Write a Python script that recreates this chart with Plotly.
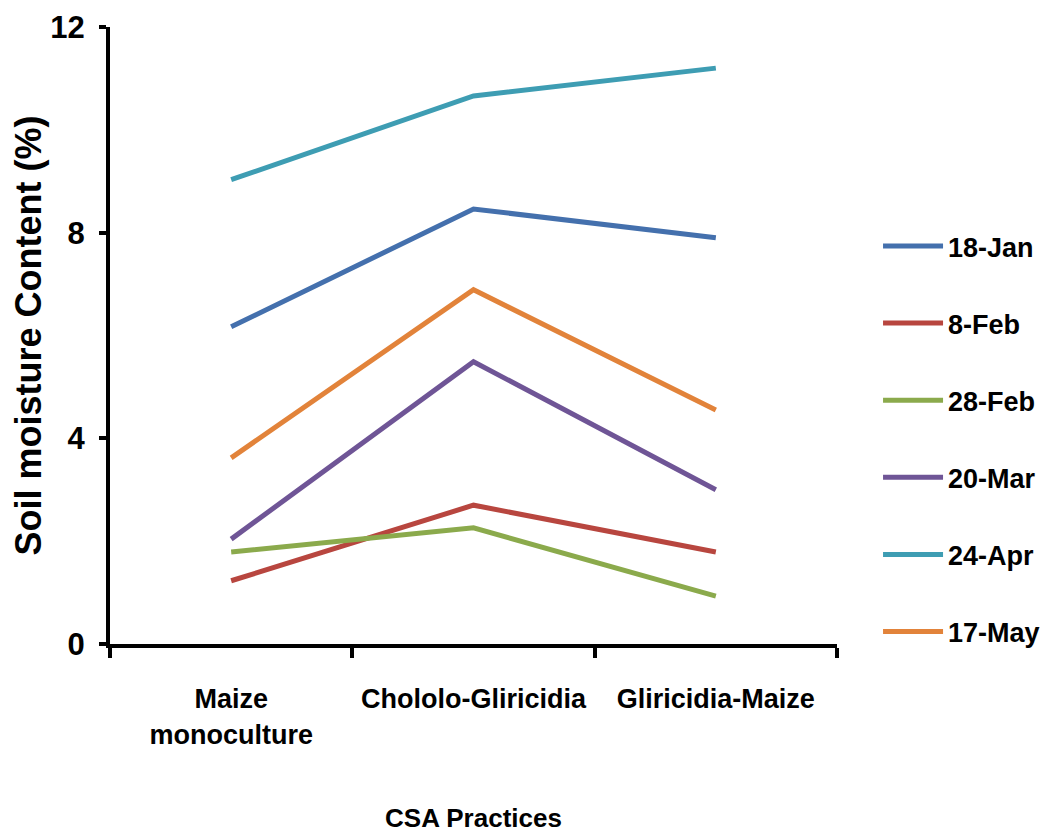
import plotly.graph_objects as go

categories = ["Maize<br>monoculture", "Chololo-Gliricidia", "Gliricidia-Maize"]
series_names = ["18-Jan", "8-Feb", "28-Feb", "20-Mar", "24-Apr", "17-May"]
jan18 = [6.17, 8.46, 7.90]
feb8 = [1.23, 2.70, 1.79]
feb28 = [1.79, 2.26, 0.93]
mar20 = [2.04, 5.49, 3.00]
apr24 = [9.03, 10.66, 11.20]
may17 = [3.62, 6.89, 4.55]
series_values = [jan18, feb8, feb28, mar20, apr24, may17]
colors = ["#4470AD", "#B8463F", "#8BAA4C", "#6F5596", "#3E9DB3", "#E2833A"]
y_ticks = [0, 4, 8, 12]

FONT = "Liberation Sans, Arial, sans-serif"

fig = go.Figure()
for name, vals, col in zip(series_names, series_values, colors):
    fig.add_trace(go.Scatter(
        x=categories, y=vals, name=name, mode="lines",
        line=dict(color=col, width=5),
        legendgroup=name,
    ))

fig.update_layout(
    width=1048, height=825,
    margin=dict(l=102, r=218, t=19, b=189),
    paper_bgcolor="white", plot_bgcolor="white",
    font=dict(family=FONT, color="black"),
    showlegend=True,
    legend=dict(
        x=1.055, y=0.684, xanchor="left", yanchor="top",
        font=dict(family=FONT, size=27, color="black", weight="bold"),
        tracegroupgap=39, itemwidth=60,
        bgcolor="rgba(0,0,0,0)",
    ),
    xaxis=dict(
        type="category", range=[-0.5, 2.5], automargin=False,
        showline=True, linecolor="black", linewidth=4,
        ticks="outside", tickson="boundaries", ticklen=10, tickwidth=4, tickcolor="black",
        tickfont=dict(family=FONT, size=27, color="black", weight="bold"),
        ticklabelstandoff=28,
        showgrid=False, zeroline=False,
        title=dict(text="CSA Practices", font=dict(family=FONT, size=26, color="black", weight="bold"), standoff=66),
    ),
    yaxis=dict(
        range=[0, 12], tickvals=y_ticks, ticktext=[str(t) for t in y_ticks],
        automargin=False,
        showline=True, linecolor="black", linewidth=4,
        ticks="outside", ticklen=7, tickwidth=4, tickcolor="black",
        tickfont=dict(family=FONT, size=31, color="black", weight="bold"),
        ticklabelstandoff=8,
        showgrid=False, zeroline=False,
        title=dict(text="Soil moisture Content (%)", font=dict(family=FONT, size=36, color="black", weight="bold"), standoff=14),
    ),
)

fig.write_html("out.html")
